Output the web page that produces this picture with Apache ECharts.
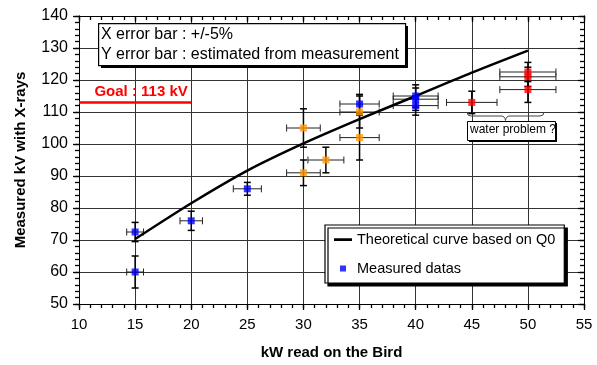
<!DOCTYPE html>
<html>
<head>
<meta charset="utf-8">
<script src="https://cdn.jsdelivr.net/npm/echarts@6/dist/echarts.min.js"></script>
<style>
  html, body { margin: 0; padding: 0; background: #fff; }
  #chart { width: 597px; height: 365px; }
</style>
</head>
<body>
<div id="chart"></div>
<script>
// theoretical curve (kW -> kV)
const curveX = [15, 20, 25, 30, 35, 40, 45, 50];
const curveY = [70.3, 81.5, 91.7, 100.2, 107.8, 115, 122.3, 129.2];

// measured points, grouped by marker colour; yErr = half height of Y error bar
const blueX = [15, 15, 20, 25, 35, 40, 40, 40];
const blueY = [72.5, 60, 76, 86, 112.5, 115, 114, 112];
const blueErr = [3, 5, 3, 2, 3, 3.5, 3.5, 3];

const orangeX = [30, 30, 32, 35, 35];
const orangeY = [105, 91, 95, 110, 102];
const orangeErr = [6, 4, 4, 5, 7];

const redX = [45, 50, 50, 50];
const redY = [113, 122.5, 121, 117];
const redErr = [3.5, 3, 3, 4];

const goalKV = 113;
const goalRange = [10, 20];
const xErrRatio = 0.05;

const FONT = '"Liberation Sans", Arial, sans-serif';

function pairs(xs, ys) {
  return xs.map((x, i) => [x, ys[i]]);
}
function triples(xs, ys, es) {
  return xs.map((x, i) => [x, ys[i], es[i]]);
}

const errData = []
  .concat(triples(blueX, blueY, blueErr))
  .concat(triples(orangeX, orangeY, orangeErr))
  .concat(triples(redX, redY, redErr));

function renderErr(params, api) {
  const x = api.value(0), y = api.value(1), e = api.value(2);
  const top = api.coord([x, y + e]);
  const bot = api.coord([x, y - e]);
  const lft = api.coord([x * (1 - xErrRatio), y]);
  const rgt = api.coord([x * (1 + xErrRatio), y]);
  const c = 3.5;
  const vStyle = { stroke: '#000', lineWidth: 1.5 };
  const hStyle = { stroke: '#222', lineWidth: 1 };
  return {
    type: 'group',
    children: [
      { type: 'line', shape: { x1: top[0], y1: top[1], x2: bot[0], y2: bot[1] }, style: vStyle },
      { type: 'line', shape: { x1: top[0] - c, y1: top[1], x2: top[0] + c, y2: top[1] }, style: vStyle },
      { type: 'line', shape: { x1: bot[0] - c, y1: bot[1], x2: bot[0] + c, y2: bot[1] }, style: vStyle },
      { type: 'line', shape: { x1: lft[0], y1: lft[1], x2: rgt[0], y2: rgt[1] }, style: hStyle },
      { type: 'line', shape: { x1: lft[0], y1: lft[1] - c, x2: lft[0], y2: lft[1] + c }, style: hStyle },
      { type: 'line', shape: { x1: rgt[0], y1: rgt[1] - c, x2: rgt[0], y2: rgt[1] + c }, style: hStyle }
    ]
  };
}

// an axis that only draws ticks (used for the minor ticks and the top/right frame)
function tickAxis(range, interval, position, inside, len) {
  return {
    type: 'value', min: range[0], max: range[1], interval: interval, position: position,
    axisLine: { show: true, onZero: false, lineStyle: { color: '#000', width: 1 } },
    axisTick: { show: true, inside: inside, length: len, lineStyle: { color: '#000', width: 1.3 } },
    axisLabel: { show: false }, splitLine: { show: false }
  };
}

const xRange = [10, 55], yRange = [50, 140];

const chart = echarts.init(document.getElementById('chart'));

const braceStyle = { fill: null, stroke: '#444', lineWidth: 1 };

const option = {
  animation: false,
  textStyle: { fontFamily: FONT },
  grid: { left: 79, right: 13, top: 16, bottom: 59 },
  xAxis: [
    {
      type: 'value', min: xRange[0], max: xRange[1], interval: 5, position: 'bottom',
      axisLine: { show: true, onZero: false, lineStyle: { color: '#000', width: 1 } },
      axisTick: { show: true, length: 6, lineStyle: { color: '#000', width: 1.3 } },
      name: 'kW read on the Bird', nameLocation: 'middle', nameGap: 41,
      nameTextStyle: { fontFamily: FONT, fontSize: 15, fontWeight: 'bold', color: '#000' },
      axisLabel: { fontFamily: FONT, fontSize: 15, color: '#000', margin: 13 },
      splitLine: { show: true, lineStyle: { color: '#333', width: 1 } }
    },
    tickAxis(xRange, 1, 'bottom', false, 4),
    tickAxis(xRange, 5, 'top', true, 6),
    tickAxis(xRange, 1, 'top', true, 4)
  ],
  yAxis: [
    {
      type: 'value', min: yRange[0], max: yRange[1], interval: 10, position: 'left',
      axisLine: { show: true, onZero: false, lineStyle: { color: '#000', width: 1 } },
      axisTick: { show: true, length: 6, lineStyle: { color: '#000', width: 1.3 } },
      name: 'Measured kV with X-rays', nameLocation: 'middle', nameGap: 51,
      nameTextStyle: { fontFamily: FONT, fontSize: 15, fontWeight: 'bold', color: '#000' },
      axisLabel: { fontFamily: FONT, fontSize: 16, color: '#000', margin: 11 },
      splitLine: { show: true, lineStyle: { color: '#333', width: 1 } }
    },
    tickAxis(yRange, 2, 'left', false, 4),
    tickAxis(yRange, 10, 'right', true, 6),
    tickAxis(yRange, 2, 'right', true, 4)
  ],
  legend: {
    left: 325, top: 225,
    orient: 'vertical',
    itemWidth: 18, itemHeight: 14, itemGap: 14,
    padding: [7, 9, 7, 9],
    backgroundColor: '#fff',
    borderColor: '#000', borderWidth: 1.2,
    shadowColor: '#000', shadowBlur: 0, shadowOffsetX: 3, shadowOffsetY: 3,
    textStyle: { fontFamily: FONT, fontSize: 14.5, color: '#000' },
    data: [
      { name: 'Theoretical curve based on Q0',
        icon: 'path://M0,0h0.01v0.01h-0.01Z M0,5.8h18v2.6h-18Z M17.99,13.99h0.01v0.01h-0.01Z' },
      { name: 'Measured datas',
        icon: 'path://M0,0h0.01v0.01h-0.01Z M6,4h6v6h-6Z M17.99,13.99h0.01v0.01h-0.01Z' }
    ]
  },
  series: [
    {
      name: 'errors', type: 'custom', renderItem: renderErr,
      data: errData, z: 2, silent: true,
      encode: { x: 0, y: 1 }
    },
    {
      name: 'Theoretical curve based on Q0', type: 'line', smooth: 0.3,
      data: pairs(curveX, curveY), symbol: 'none', z: 3,
      color: '#000', lineStyle: { color: '#000', width: 2.5 },
      markLine: {
        silent: true, symbol: 'none',
        lineStyle: { color: '#ff0000', width: 2.5, type: 'solid' },
        label: {
          show: true, position: 'insideMiddleTop', distance: 3, padding: [0, 0, 0, 12],
          formatter: 'Goal : ' + goalKV + ' kV',
          color: '#ff0000', fontFamily: FONT, fontSize: 15, fontWeight: 'bold'
        },
        data: [[{ coord: [goalRange[0], goalKV] }, { coord: [goalRange[1], goalKV] }]]
      }
    },
    {
      name: 'Measured datas', type: 'scatter', symbol: 'rect', symbolSize: 7, z: 4,
      data: pairs(blueX, blueY), color: '#0000ff', itemStyle: { color: '#0000ff' }
    },
    {
      name: 'orange', type: 'scatter', symbol: 'rect', symbolSize: 7, z: 4,
      data: pairs(orangeX, orangeY), itemStyle: { color: '#ff9900' }
    },
    {
      name: 'red', type: 'scatter', symbol: 'rect', symbolSize: 7, z: 4,
      data: pairs(redX, redY), itemStyle: { color: '#ff0000' }
    }
  ],
  graphic: [
    // note box, top left
    { type: 'rect', left: 101, top: 26, z: 10, shape: { width: 307, height: 42 }, style: { fill: '#000' } },
    { type: 'rect', left: 98, top: 23, z: 11, shape: { width: 307, height: 42 },
      style: { fill: '#fff', stroke: '#000', lineWidth: 1.2 } },
    { type: 'text', left: 101, top: 25, z: 12,
      style: { text: 'X error bar : +/-5%\nY error bar : estimated from measurement',
               font: '16px ' + FONT, fill: '#000', lineHeight: 19.7 } },
    // water problem annotation (curly brace + label)
    { type: 'bezierCurve', z: 10, shape: { x1: 467, y1: 112, cpx1: 467, cpy1: 116, x2: 471, y2: 116 }, style: braceStyle },
    { type: 'line', z: 10, shape: { x1: 471, y1: 116, x2: 501, y2: 116 }, style: braceStyle },
    { type: 'bezierCurve', z: 10, shape: { x1: 501, y1: 116, cpx1: 505, cpy1: 116, x2: 505.5, y2: 120.5 }, style: braceStyle },
    { type: 'bezierCurve', z: 10, shape: { x1: 505.5, y1: 120.5, cpx1: 506, cpy1: 116, x2: 510, y2: 116 }, style: braceStyle },
    { type: 'line', z: 10, shape: { x1: 510, y1: 116, x2: 540, y2: 116 }, style: braceStyle },
    { type: 'bezierCurve', z: 10, shape: { x1: 540, y1: 116, cpx1: 544, cpy1: 116, x2: 544, y2: 112 }, style: braceStyle },
    { type: 'rect', left: 469, top: 123, z: 10, shape: { width: 88, height: 19 }, style: { fill: '#000' } },
    { type: 'rect', left: 467, top: 121, z: 11, shape: { width: 88, height: 19 },
      style: { fill: '#fff', stroke: '#000', lineWidth: 1 } },
    { type: 'text', left: 470, top: 124, z: 12,
      style: { text: 'water problem ?', font: '12px ' + FONT, fill: '#000' } }
  ]
};

chart.setOption(option);
</script>
</body>
</html>
